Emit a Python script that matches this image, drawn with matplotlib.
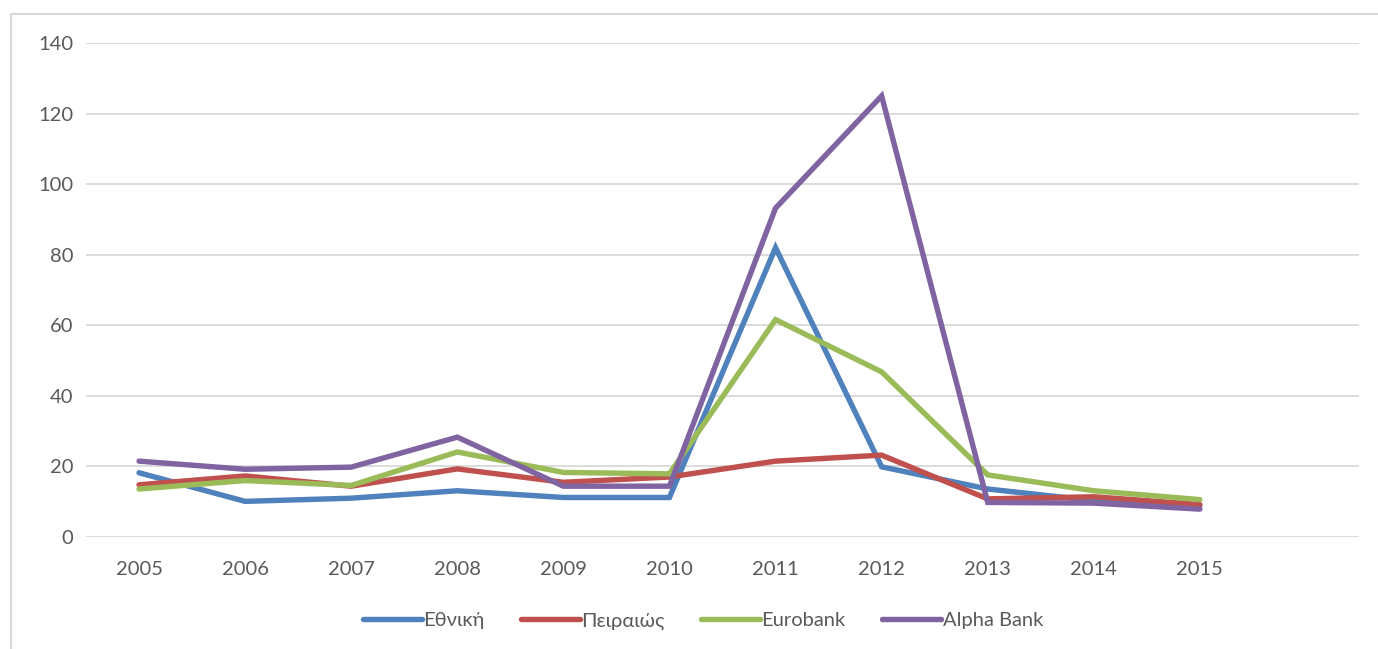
import matplotlib
matplotlib.use("Agg")
import matplotlib.pyplot as plt
from matplotlib.patches import Rectangle

categories = ["2005", "2006", "2007", "2008", "2009", "2010", "2011", "2012", "2013", "2014", "2015", ""]
ethniki = [18.2, 10.1, 11.0, 13.1, 11.2, 11.2, 82.0, 19.9, 13.6, 10.3, 8.8]
peiraios = [14.8, 17.3, 14.4, 19.3, 15.5, 17.0, 21.5, 23.2, 10.8, 11.4, 9.2]
eurobank = [13.6, 16.0, 14.6, 24.1, 18.3, 17.9, 61.6, 46.8, 17.6, 13.1, 10.6]
alpha = [21.5, 19.2, 19.8, 28.3, 14.4, 14.4, 93.2, 125.0, 9.8, 9.6, 7.9]
series_names = ["Εθνική", "Πειραιώς", "Eurobank", "Alpha Bank"]
colors = ["#4F81BD", "#C0504D", "#9BBB59", "#8064A2"]

plt.rcParams['font.family'] = ['Lato', 'DejaVu Sans']

W, H = 1378, 649
fig = plt.figure(figsize=(W / 100, H / 100), dpi=100)
ax = fig.add_axes([86 / W, 1 - 537 / H, (1359 - 86) / W, (537 - 43) / H])

fig.patches.append(Rectangle((11 / W, -0.05), 1.0, 1.05 - 14 / H,
                             transform=fig.transFigure, fill=False,
                             edgecolor="#D9D9D9", linewidth=1.5))

x = list(range(len(categories)))
for vals, name, c in zip([ethniki, peiraios, eurobank, alpha], series_names, colors):
    ax.plot(x[:len(vals)], vals, color=c, linewidth=3.9, label=name,
            solid_joinstyle="miter", solid_capstyle="round")

ax.set_xlim(-0.5, len(categories) - 0.5)
ax.set_ylim(0, 140)
ax.set_yticks(range(0, 141, 20))
ax.set_xticks(x)
ax.set_xticklabels(categories)
ax.grid(axis="y", color="#D9D9D9", linewidth=1.3)
ax.set_axisbelow(True)
for s in ax.spines.values():
    s.set_visible(False)
ax.tick_params(axis="both", length=0, labelsize=14.5, labelcolor="#595959")
ax.tick_params(axis="y", pad=9)
ax.tick_params(axis="x", pad=17)

leg = ax.legend(loc="center", bbox_to_anchor=(703 / W, 1 - 621 / H),
                bbox_transform=fig.transFigure, ncol=4, frameon=False,
                fontsize=14.5, handlelength=2.9, handletextpad=0.1,
                columnspacing=1.8)
for t in leg.get_texts():
    t.set_color("#595959")

fig.savefig("out.png", dpi=100)
